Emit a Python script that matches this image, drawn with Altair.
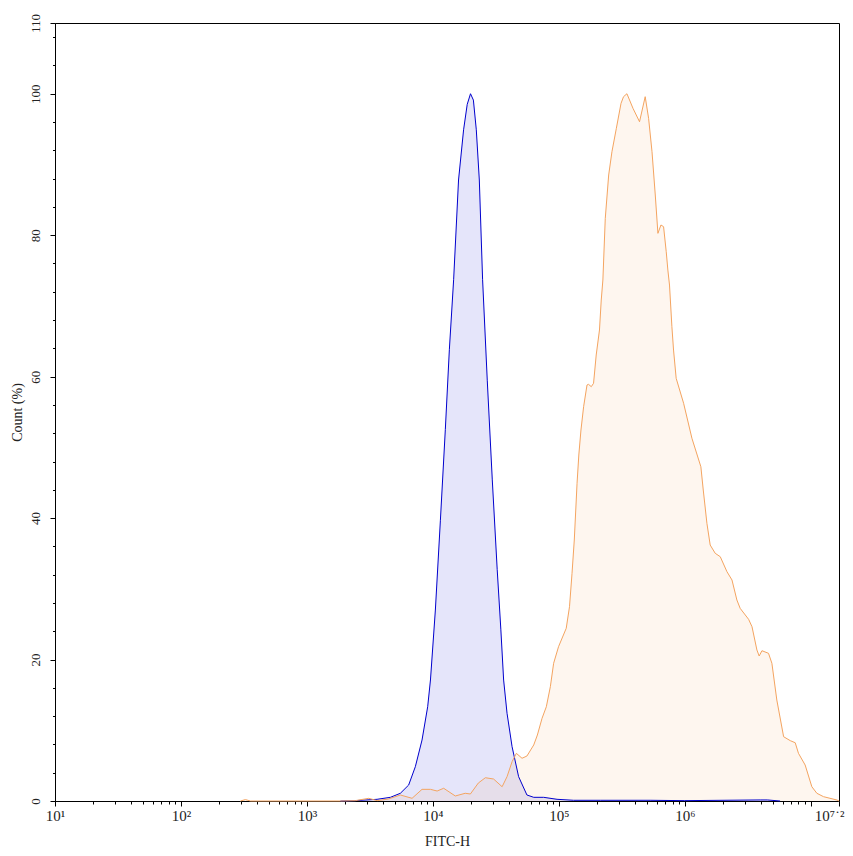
import altair as alt
import pandas as pd

# ---- data (log10 of FITC-H, count %) ----
blue_exp = [3.266, 3.384, 3.557, 3.663, 3.742, 3.808, 3.861, 3.914, 3.959, 3.981,
            4.020, 4.060, 4.099, 4.131, 4.165, 4.204, 4.244, 4.273, 4.299, 4.322,
            4.345, 4.369, 4.395, 4.432, 4.472, 4.511, 4.540, 4.562, 4.589, 4.629,
            4.681, 4.747, 4.801, 4.880, 4.986, 5.117, 5.329, 5.725, 6.000, 6.599,
            6.655, 6.757]
blue_count = [0.0, 0.05, 0.24, 0.52, 1.09, 2.26, 4.85, 8.62, 13.33, 17.11,
              27.0, 39.7, 52.5, 63.8, 73.7, 87.8, 94.9, 98.5, 100.0, 99.1,
              94.9, 87.8, 73.7, 59.5, 45.4, 32.7, 24.2, 17.1, 12.4, 7.68,
              3.44, 0.85, 0.52, 0.52, 0.24, 0.1, 0.1, 0.1, 0.05, 0.15,
              0.15, 0.0]

orange_exp = [2.472, 2.512, 2.551, 3.266, 3.384, 3.491, 3.557, 3.647, 3.742, 3.835,
              3.914, 3.981, 4.034, 4.086, 4.178, 4.257, 4.298, 4.361, 4.417, 4.482,
              4.550, 4.589, 4.629, 4.663, 4.708, 4.747, 4.801, 4.830, 4.867, 4.901,
              4.933, 4.959, 4.998, 5.059, 5.085, 5.105, 5.123, 5.145, 5.159, 5.176,
              5.197, 5.224, 5.236, 5.258, 5.276, 5.297, 5.323, 5.337, 5.350, 5.369,
              5.396, 5.422, 5.457, 5.494, 5.514, 5.541, 5.589, 5.641, 5.686, 5.713,
              5.740, 5.766, 5.787, 5.811, 5.832, 5.853, 5.866, 5.879, 5.898, 5.911,
              5.932, 5.991, 6.057, 6.128, 6.147, 6.176, 6.202, 6.242, 6.282, 6.335,
              6.375, 6.414, 6.440, 6.507, 6.534, 6.573, 6.591, 6.613, 6.665, 6.692,
              6.731, 6.785, 6.838, 6.877, 6.903, 6.956, 7.009, 7.049, 7.102, 7.208,
              7.2248]
orange_count = [0.0, 0.2, 0.0, 0.0, 0.05, 0.38, 0.05, 0.28, 0.85, 0.38,
                1.65, 1.65, 1.41, 1.80, 0.71, 1.09, 0.99, 2.54, 3.29, 3.11,
                2.02, 3.44, 5.56, 6.74, 6.04, 6.36, 7.92, 9.33, 11.69, 13.33,
                16.16, 19.47, 21.82, 24.42, 27.47, 32.19, 36.90, 44.92, 48.92, 52.45,
                55.75, 58.82, 58.91, 58.58, 59.06, 63.06, 66.59, 70.83, 73.66, 82.38,
                88.51, 91.80, 95.11, 98.64, 99.58, 100.0, 97.94, 96.04, 99.58, 96.52,
                91.80, 85.68, 80.26, 81.44, 81.20, 77.66, 75.07, 72.95, 67.06, 63.76,
                59.76, 56.23, 51.28, 47.26, 43.97, 39.26, 36.19, 35.02, 34.54, 32.42,
                31.25, 28.42, 27.24, 25.69, 24.64, 21.35, 20.50, 21.25, 20.88, 19.47,
                14.28, 9.09, 8.53, 8.24, 6.74, 5.09, 2.02, 1.09, 0.61, 0.14,
                0.0]

x_major = [10, 100, 1000, 10000, 100000, 1000000, 10000000, 16777216]
x_major_labels = ["10¹", "10²", "10³", "10⁴", "10⁵", "10⁶", "", "10⁷˙²"]
x_minor = [m * 10 ** k for k in range(1, 7) for m in range(2, 10)]

y_major = [0, 20, 40, 60, 80, 100, 110]
y_minor = [v for v in range(4, 110, 4) if v % 20 != 0]

x_title = "FITC-H"
y_title = "Count (%)"

blue_df = pd.DataFrame({"fitc": [10 ** e for e in blue_exp], "count": blue_count})
orange_df = pd.DataFrame({"fitc": [10 ** e for e in orange_exp], "count": orange_count})

FONT = "Liberation Serif"
TXT = "#222222"

label_expr = "".join(f"datum.value == {v} ? '{t}' : " for v, t in zip(x_major, x_major_labels)) + "''"
x_major_test = " || ".join(f"datum.value == {v}" for v in x_major)
last_test = f"datum.value == {x_major[-1]}"

x_enc = alt.X(
    "fitc:Q",
    scale=alt.Scale(type="log", domain=[10, 16777216], nice=False),
    axis=alt.Axis(
        values=sorted(x_major + x_minor),
        labelExpr=label_expr,
        tickSize={"condition": {"test": x_major_test, "value": 5}, "value": 3},
        labelAlign={"condition": {"test": last_test, "value": "right"}, "value": "center"},
        labelOffset={"condition": {"test": last_test, "value": 5}, "value": 0},
        labelOverlap=False,
        labelFlush=False,
        labelFont=FONT,
        labelFontSize=15,
        labelColor=TXT,
        labelPadding=2,
        tickColor="black",
        domainColor="black",
        grid=False,
        title=x_title,
        titleFont=FONT,
        titleFontSize=14,
        titleFontWeight="normal",
        titleColor=TXT,
        titleY=44,
        titleBaseline="alphabetic",
    ),
)

y_test = " || ".join(f"datum.value == {v}" for v in y_major)
y_enc = alt.Y(
    "count:Q",
    scale=alt.Scale(domain=[0, 110], nice=False),
    axis=alt.Axis(
        values=sorted(y_major + y_minor),
        labelExpr=f"({y_test}) ? datum.label : ''",
        tickSize={"condition": {"test": y_test, "value": 5}, "value": 2.5},
        labelAngle=270,
        labelAlign="center",
        labelBaseline="bottom",
        labelOverlap=False,
        labelFlush=False,
        labelFont=FONT,
        labelFontSize=13,
        labelColor=TXT,
        labelPadding=8,
        tickColor="black",
        domainColor="black",
        grid=False,
        title=y_title,
        titleFont=FONT,
        titleFontSize=14,
        titleFontWeight="normal",
        titleColor=TXT,
        titleAngle=270,
        titleAlign="center",
        titleBaseline="middle",
        titleX=-38,
        titleY=389,
    ),
)

blue_area = alt.Chart(blue_df).mark_area(color="#0000cd", fillOpacity=0.1, interpolate="linear").encode(x=x_enc, y=y_enc)
orange_area = alt.Chart(orange_df).mark_area(color="#f4a460", fillOpacity=0.1, interpolate="linear").encode(x=x_enc, y=y_enc)
blue_line = alt.Chart(blue_df).mark_line(color="#0000cd", strokeWidth=1).encode(x=x_enc, y=y_enc)
orange_line = alt.Chart(orange_df).mark_line(color="#f4a460", strokeWidth=1).encode(x=x_enc, y=y_enc)

chart = (
    alt.layer(blue_area, orange_area, blue_line, orange_line)
    .properties(
        width=784,
        height=778,
        padding={"left": 47, "top": 15, "right": 6, "bottom": 46},
        autosize=alt.AutoSizeParams(type="none"),
        background="white",
    )
    .configure_view(stroke="black", strokeWidth=1)
)

chart.save("out.html", embed_options={"renderer": "svg", "actions": False})
